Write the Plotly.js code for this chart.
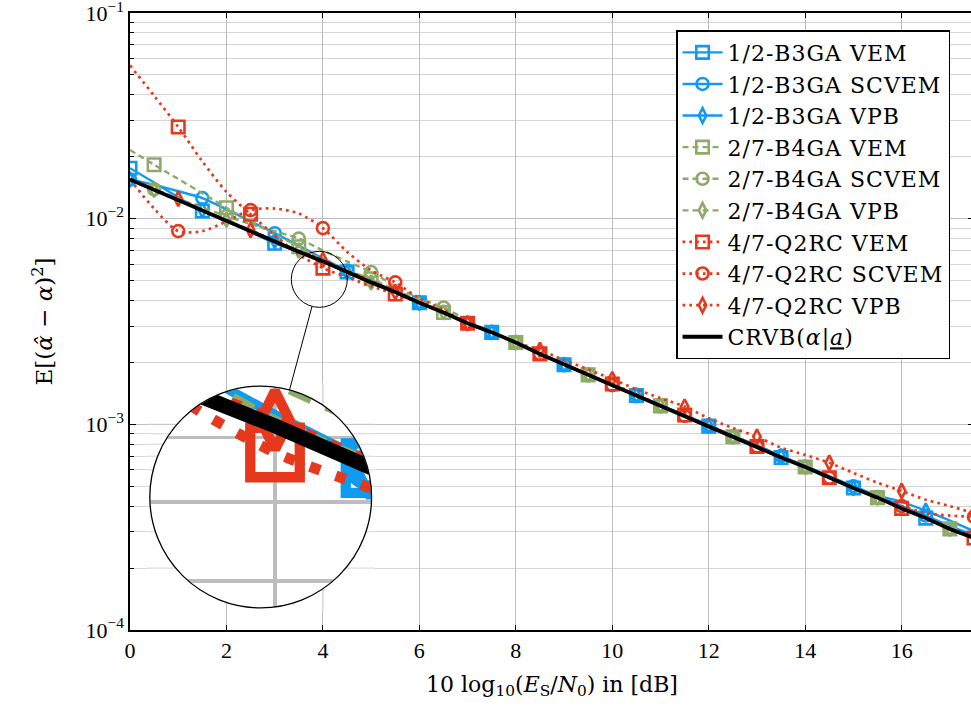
<!DOCTYPE html>
<html><head><meta charset="utf-8">
<script src="https://cdn.plot.ly/plotly-3.0.1.min.js"></script>
<style>html,body{margin:0;padding:0;overflow:hidden;background:#fff}#chart{width:975px;height:709px}
.legendtext{letter-spacing:1px}</style>
</head><body><div id="chart"></div>
<script>
// ---------------- data ----------------
const snrDb = [0,0.5,1,1.5,2,2.5,3,3.5,4,4.5,5,5.5,6,6.5,7,7.5,8,8.5,9,9.5,10,10.5,11,11.5,12,12.5,13,13.5,14,14.5,15,15.5,16,16.5,17,17.5];

const crvb = [0.0155,0.0138,0.0123,0.0110,0.0098,0.0087,0.0078,0.0069,0.0062,0.0055,0.0049,0.0044,0.0039,0.0035,0.0031,0.0028,0.0025,0.0022,0.00195,0.00174,0.00155,0.00138,0.00123,0.0011,0.00098,0.00087,0.00078,0.00069,0.00062,0.00055,0.00049,0.00044,0.00039,0.00035,0.00031,0.00028];

const b3gaVem = [0.0176,0.0150,0.0127,0.0109,0.0097,0.0086,0.0076,0.0069,0.0062,0.0055,0.0049,0.0044,0.0039,0.0035,0.0031,0.0028,0.0025,0.0022,0.00195,0.00174,0.00155,0.00138,0.00123,0.0011,0.00098,0.00087,0.00078,0.00069,0.00062,0.00055,0.00049,0.00044,0.00039,0.00035,0.00031,0.000285];
const b3gaScvem = [0.0155,0.0146,0.0136,0.0126,0.0111,0.0097,0.0085,0.0074,0.0064,0.0056,0.0050,0.0044,0.0039,0.0035,0.0031,0.0028,0.0025,0.0022,0.00196,0.00175,0.00156,0.00139,0.00124,0.00111,0.00099,0.00088,0.00079,0.0007,0.00063,0.00056,0.0005,0.00045,0.0004,0.00036,0.00032,0.00029];
const b3gaVpb = [0.0155,0.0138,0.0123,0.0110,0.0098,0.0087,0.0078,0.0069,0.0062,0.0055,0.0049,0.0044,0.0039,0.0035,0.0031,0.0028,0.0025,0.0022,0.00195,0.00174,0.00155,0.00138,0.00123,0.0011,0.00098,0.00088,0.00079,0.0007,0.00062,0.00055,0.00049,0.00045,0.00042,0.00038,0.00034,0.000302];

const b4gaVem = [0.0216,0.0183,0.0156,0.0133,0.0113,0.0097,0.0084,0.0073,0.0063,0.0056,0.0051,0.0045,0.0040,0.0035,0.0031,0.0028,0.0025,0.0022,0.00195,0.00174,0.00155,0.00138,0.00123,0.0011,0.00098,0.00087,0.00078,0.00069,0.00062,0.00055,0.00049,0.00044,0.00039,0.00035,0.00031,0.00028];
const b4gaScvem = [0.0155,0.0139,0.0125,0.0113,0.0103,0.0094,0.0087,0.0080,0.0070,0.0062,0.0055,0.0047,0.0041,0.0037,0.0032,0.0028,0.0025,0.0022,0.00196,0.00175,0.00156,0.00139,0.00124,0.0011,0.00098,0.00087,0.00078,0.00069,0.00062,0.00055,0.00049,0.00044,0.00039,0.00035,0.00031,0.00028];
const b4gaVpb = [0.0155,0.0138,0.0123,0.0110,0.0099,0.0088,0.0078,0.0070,0.0062,0.0055,0.0049,0.0044,0.0039,0.0035,0.0031,0.0028,0.0025,0.0022,0.00195,0.00174,0.00155,0.00138,0.00123,0.0011,0.00098,0.00087,0.00078,0.00069,0.00062,0.00055,0.00049,0.00044,0.00039,0.00035,0.00031,0.00028];

const q2rcVem = [0.0556,0.0396,0.0279,0.0190,0.0135,0.0105,0.0083,0.0067,0.00575,0.0052,0.0047,0.0043,0.0039,0.0035,0.0031,0.0028,0.0025,0.0022,0.00195,0.00174,0.00157,0.0014,0.00124,0.00111,0.00099,0.00088,0.00078,0.00069,0.00062,0.00055,0.00049,0.00044,0.00039,0.00035,0.00031,0.00028];
const q2rcScvem = [0.0155,0.0112,0.0087,0.0087,0.0097,0.0110,0.0112,0.0106,0.0090,0.0069,0.0056,0.0049,0.0041,0.0036,0.0031,0.0028,0.0025,0.0022,0.00195,0.00174,0.00155,0.00138,0.00123,0.0011,0.00098,0.00087,0.00078,0.00069,0.00062,0.00055,0.00049,0.00044,0.0004,0.00037,0.00036,0.000355];
const q2rcVpb = [0.0155,0.0139,0.0125,0.0111,0.0098,0.0088,0.0078,0.0070,0.0063,0.0056,0.0050,0.0044,0.0039,0.0035,0.0031,0.0028,0.0025,0.0023,0.00205,0.00185,0.00166,0.00148,0.00134,0.00122,0.00107,0.00096,0.00087,0.00077,0.00071,0.00065,0.00058,0.00052,0.000474,0.00043,0.0004,0.00037];

const seriesNames = ['1/2-B3GA VEM','1/2-B3GA SCVEM','1/2-B3GA VPB','2/7-B4GA VEM','2/7-B4GA SCVEM','2/7-B4GA VPB','4/7-Q2RC VEM','4/7-Q2RC SCVEM','4/7-Q2RC VPB'];
const crvbName = 'CRVB(<i>α</i>|<span style="text-decoration:underline"><i>a</i></span>)';
const yTickVals = [0.0001,0.001,0.01,0.1];
const yTickText = ['10<sup>−4</sup>','10<sup>−3</sup>','10<sup>−2</sup>','10<sup>−1</sup>'];

// ---------------- styles ----------------
const BLUE='#0f9bf0', GREEN='#8dab67', RED='#e5381d';
const FONT='Liberation Serif, Times New Roman, serif';
const LFONT='DejaVu Serif, serif';
const seriesY = [b3gaVem,b3gaScvem,b3gaVpb,b4gaVem,b4gaScvem,b4gaVpb,q2rcVem,q2rcScvem,q2rcVpb];
const seriesColor = [BLUE,BLUE,BLUE,GREEN,GREEN,GREEN,RED,RED,RED];
const seriesKind = ['solid','solid','solid','dash','dash','dash','dot','dot','dot'];
const seriesSym = ['square','circle','diamond-tall','square','circle','diamond-tall','square','circle','diamond-tall'];
const seriesPhase = [0,0,0,1,1,1,2,2,2];
const lineSpec = {solid:{w:2.4,d:null}, dash:{w:2.4,d:[6,4]}, dot:{w:2.7,d:[2.7,4.1]}};
const symSize = {'square':12.5,'circle':12,'diamond-tall':10.5};
const MW = 2.6, CRVB_W = 3.8;

// ---------------- geometry ----------------
const W=975, H=709, M={l:130,r:1,t:13,b:79};
const PW=W-M.l-M.r, PH=H-M.t-M.b;
const XR=[0,17.5], YR=[-4,-1];
const pxX = x => M.l + (x-XR[0])/(XR[1]-XR[0])*PW;
const pxY = v => M.t + (YR[1]-Math.log10(v))/(YR[1]-YR[0])*PH;
const papX = p => (p-M.l)/PW;
const papY = p => (M.t+PH-p)/PH;
const SPY = {x:3.925, y:0.00507, r:28, mag:3.96, cx:260.7, cy:497};
const sx=pxX(SPY.x), sy=pxY(SPY.y), R=SPY.r*SPY.mag, cx=SPY.cx, cy=SPY.cy, MAG=SPY.mag;
const pxPerX = PW/(XR[1]-XR[0]), pxPerDec = PH/(YR[1]-YR[0]);
const halfX = R/(MAG*pxPerX), halfDec = R/(MAG*pxPerDec);

function dashStr(d,k){ return d ? d.map(v=>(v*k).toFixed(1)+'px').join(',') : 'solid'; }
function pick(arr,phase){ return arr.filter((_,i)=>i%3===phase); }

const traces=[];
seriesNames.forEach((n,i)=>{
  const ls=lineSpec[seriesKind[i]];
  traces.push({type:'scatter', mode:'lines+markers', x:[null], y:[null], name:n,
    line:{color:seriesColor[i], width:ls.w, dash:dashStr(ls.d,1)},
    marker:{symbol:seriesSym[i]+'-open', size:symSize[seriesSym[i]], color:seriesColor[i], line:{color:seriesColor[i], width:MW}}});
});
traces.push({type:'scatter', mode:'lines', x:[null], y:[null], name:crvbName, line:{color:'black', width:CRVB_W}});

function addSet(xa, ya, k){
  seriesY.forEach((yy,i)=>{
    const ls=lineSpec[seriesKind[i]];
    traces.push({type:'scatter', mode:'lines', x:snrDb, y:yy, xaxis:xa, yaxis:ya, showlegend:false, hoverinfo:'skip',
      line:{color:seriesColor[i], width:ls.w*k, dash:dashStr(ls.d,k), shape:'spline', smoothing:0.8}});
    traces.push({type:'scatter', mode:'markers', x:pick(snrDb,seriesPhase[i]), y:pick(yy,seriesPhase[i]), xaxis:xa, yaxis:ya, showlegend:false, hoverinfo:'skip',
      marker:{symbol:seriesSym[i]+'-open', size:symSize[seriesSym[i]]*k, color:seriesColor[i], line:{color:seriesColor[i], width:MW*k}}});
  });
  traces.push({type:'scatter', mode:'lines', x:snrDb, y:crvb, xaxis:xa, yaxis:ya, showlegend:false, hoverinfo:'skip',
    line:{color:'black', width:CRVB_W*k}});
}
addSet('x','y',1);
addSet('x2','y2',MAG);

// ---------------- shapes (spy / magnifier) ----------------
const shapes=[];
const pad=3;
let path = `M${papX(cx-R-pad)},${papY(cy-R-pad)} L${papX(cx+R+pad)},${papY(cy-R-pad)} L${papX(cx+R+pad)},${papY(cy+R+pad)} L${papX(cx-R-pad)},${papY(cy+R+pad)} Z`;
const N=180;
for(let i=0;i<N;i++){
  const a=2*Math.PI*i/N;
  path += (i===0?' M':' L') + papX(cx+(R-0.5)*Math.cos(a)).toFixed(5)+','+papY(cy+(R-0.5)*Math.sin(a)).toFixed(5);
}
path += ' Z';
shapes.push({type:'path', xref:'paper', yref:'paper', path, fillcolor:'white', fillrule:'evenodd', line:{width:0}, layer:'above'});

const GRID_MAJ='#bdbdbd', GRID_MIN='#d4d4d4';
function lineShape(x0,y0,x1,y1,color){
  return {type:'line', xref:'paper', yref:'paper', x0:papX(x0), y0:papY(y0), x1:papX(x1), y1:papY(y1), line:{color, width:1}, layer:'above'};
}
function hSeg(g,color){
  const dy=g-cy; const L=cx-R-pad, Rt=cx+R+pad;
  if(Math.abs(dy)>=R){ shapes.push(lineShape(L,g,Rt,g,color)); return; }
  const h=Math.sqrt(R*R-dy*dy);
  shapes.push(lineShape(L,g,cx-h,g,color)); shapes.push(lineShape(cx+h,g,Rt,g,color));
}
function vSeg(g,color){
  const dx=g-cx; const T=cy-R-pad, B=cy+R+pad;
  if(Math.abs(dx)>=R){ shapes.push(lineShape(g,T,g,B,color)); return; }
  const h=Math.sqrt(R*R-dx*dx);
  shapes.push(lineShape(g,T,g,cy-h,color)); shapes.push(lineShape(g,cy+h,g,B,color));
}
for(let dec=-4; dec<-1; dec++){
  for(let k=1;k<=9;k++){
    const g=pxY(k*Math.pow(10,dec));
    if(g>cy-R-pad && g<cy+R+pad && g<M.t+PH-0.5) hSeg(g, k===1?GRID_MAJ:GRID_MIN);
  }
}
for(let xv=2; xv<=17.5; xv+=2){
  const g=pxX(xv);
  if(g>cx-R-pad && g<cx+R+pad) vSeg(g, GRID_MAJ);
}
shapes.push({type:'circle', xref:'paper', yref:'paper', x0:papX(cx-R), x1:papX(cx+R), y0:papY(cy+R), y1:papY(cy-R), line:{color:'black', width:1.3}, layer:'above'});
shapes.push({type:'circle', xref:'paper', yref:'paper', x0:papX(sx-SPY.r), x1:papX(sx+SPY.r), y0:papY(sy+SPY.r), y1:papY(sy-SPY.r), line:{color:'black', width:1}, layer:'above'});
const dxC=cx-sx, dyC=cy-sy, dC=Math.hypot(dxC,dyC);
shapes.push({type:'line', xref:'paper', yref:'paper',
  x0:papX(sx+dxC/dC*SPY.r), y0:papY(sy+dyC/dC*SPY.r), x1:papX(cx-dxC/dC*R), y1:papY(cy-dyC/dC*R),
  line:{color:'black', width:1}, layer:'above'});

const minorVals=[];
[1e-4,1e-3,1e-2].forEach(d=>{ for(let k=2;k<=9;k++) minorVals.push(k*d); });

const layout = {
  width:W, height:H, margin:M,
  paper_bgcolor:'white', plot_bgcolor:'white',
  font:{family:FONT, color:'black', size:22},
  showlegend:true,
  xaxis:{range:XR, dtick:2, tick0:0, showgrid:true, gridcolor:GRID_MAJ, gridwidth:1, zeroline:false,
    ticks:'inside', ticklen:5, tickcolor:'black', showline:true, linecolor:'black', linewidth:1.6, mirror:'ticks',
    tickfont:{family:FONT, size:22}, ticklabeloverflow:'allow',
    title:{text:'10 log<sub>10</sub>(<i>E</i><sub>S</sub>/<i>N</i><sub>0</sub>) in [dB]', font:{family:LFONT, size:22}, standoff:14}},
  yaxis:{type:'log', range:[YR[0]-0.0002, YR[1]+0.0002], tickvals:yTickVals, ticktext:yTickText,
    showgrid:true, gridcolor:GRID_MAJ, gridwidth:1, zeroline:false, ticklabeloverflow:'allow',
    ticks:'inside', ticklen:6, tickcolor:'black', showline:true, linecolor:'black', linewidth:1.6, mirror:'ticks',
    minor:{tickvals:minorVals, showgrid:true, gridcolor:GRID_MIN, ticks:'inside', ticklen:3.5, tickcolor:'black'},
    tickfont:{family:FONT, size:22},
    title:{text:'E[(<i>α̂</i> − <i>α</i>)<sup>2</sup>]', font:{family:LFONT, size:23}, standoff:26}},
  xaxis2:{domain:[papX(cx-R), papX(cx+R)], anchor:'y2', range:[SPY.x-halfX, SPY.x+halfX],
    tickvals:[4], showticklabels:false, ticks:'', showgrid:true, gridcolor:GRID_MAJ, gridwidth:3.5, zeroline:false, showline:false},
  yaxis2:{domain:[papY(cy+R), papY(cy-R)], anchor:'x2', type:'log', range:[Math.log10(SPY.y)-halfDec, Math.log10(SPY.y)+halfDec],
    tickvals:[0.004,0.005,0.006], showticklabels:false, ticks:'', showgrid:true, gridcolor:GRID_MAJ, gridwidth:3.5, zeroline:false, showline:false},
  legend:{x:0.9716, y:0.9724, xanchor:'right', yanchor:'top', bgcolor:'white', bordercolor:'black', borderwidth:1.5,
    font:{family:LFONT, size:22, color:'black'}, itemwidth:40, tracegroupgap:0},
  shapes
};
Plotly.newPlot('chart', traces, layout, {staticPlot:true, displayModeBar:false});
</script>
</body></html>
